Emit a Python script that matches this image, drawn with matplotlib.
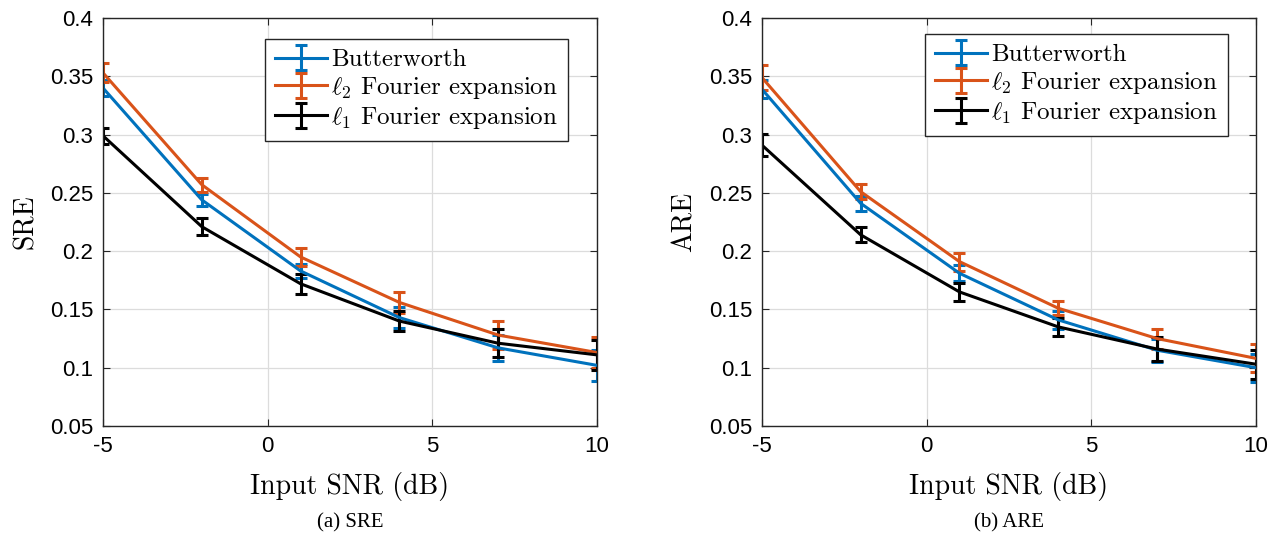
import numpy as np
import matplotlib.pyplot as plt
import matplotlib as mpl

mpl.rcParams['mathtext.fontset'] = 'cm'
mpl.rcParams['axes.unicode_minus'] = False

# data
snr = [-5, -2, 1, 4, 7, 10]
labels = ['Butterworth', r'$\ell_2$ Fourier expansion', r'$\ell_1$ Fourier expansion']
colors = ['#0072BD', '#D95319', 'black']

sre_bw = [0.340, 0.244, 0.183, 0.143, 0.117, 0.102]
sre_l2 = [0.353, 0.257, 0.195, 0.156, 0.128, 0.113]
sre_l1 = [0.299, 0.221, 0.172, 0.140, 0.121, 0.111]
sre_bw_err = [0.007, 0.005, 0.006, 0.009, 0.011, 0.013]
sre_l2_err = [0.008, 0.006, 0.008, 0.009, 0.012, 0.013]
sre_l1_err = [0.007, 0.007, 0.0085, 0.0085, 0.012, 0.013]

are_bw = [0.339, 0.241, 0.181, 0.141, 0.115, 0.100]
are_l2 = [0.349, 0.251, 0.191, 0.151, 0.125, 0.108]
are_l1 = [0.291, 0.214, 0.165, 0.135, 0.116, 0.103]
are_bw_err = [0.008, 0.0064, 0.007, 0.0076, 0.010, 0.012]
are_l2_err = [0.011, 0.0064, 0.0077, 0.006, 0.0086, 0.012]
are_l1_err = [0.0094, 0.0064, 0.0077, 0.008, 0.010, 0.0125]

yticks = [0.05, 0.1, 0.15, 0.2, 0.25, 0.3, 0.35, 0.4]
ytick_labels = ['0.05', '0.1', '0.15', '0.2', '0.25', '0.3', '0.35', '0.4']
xticks = [-5, 0, 5, 10]

fig = plt.figure(figsize=(12.74, 5.38), dpi=100)
panels = [
    ([sre_bw, sre_l2, sre_l1], [sre_bw_err, sre_l2_err, sre_l1_err], 'SRE', '(a) SRE', 0.0808, (0.941, 0.949)),
    ([are_bw, are_l2, are_l1], [are_bw_err, are_l2_err, are_l1_err], 'ARE', '(b) ARE', 0.598, (0.943, 0.961)),
]

for series, errs, ylab, cap, left, anchor in panels:
    ax = fig.add_axes([left, 0.2082, 0.3878, 0.7584])
    for y, e, lab, c in zip(series, errs, labels, colors):
        ax.errorbar(snr, y, yerr=e, color=c, lw=2.2, capsize=4.5, capthick=2.2,
                    elinewidth=2.2, label=lab)
    ax.set_xlim(-5, 10)
    ax.set_ylim(0.05, 0.4)
    ax.set_xticks(xticks)
    ax.set_xticklabels([str(v) for v in xticks], family='Liberation Sans', fontsize=16)
    ax.set_yticks(yticks)
    ax.set_yticklabels(ytick_labels, family='Liberation Sans', fontsize=16)
    ax.grid(True, color='#dcdcdc', lw=0.9)
    ax.set_axisbelow(True)
    ax.tick_params(direction='in', top=True, right=True, length=5, color='#262626', pad=7)
    for s in ax.spines.values():
        s.set_color('#262626')
        s.set_linewidth(1.0)
    ax.set_xlabel('Input SNR (dB)', family='cmr10', fontsize=20, labelpad=11)
    ax.set_ylabel(ylab, family='cmr10', fontsize=20, labelpad=8)
    leg = ax.legend(loc='upper right', bbox_to_anchor=anchor, fancybox=False,
                    prop={'family': 'cmr10', 'size': 18}, handlelength=2.1,
                    borderpad=0.4, labelspacing=0.15, borderaxespad=0,
                    handletextpad=0.15)
    leg.get_frame().set_edgecolor('#262626')
    leg.get_frame().set_linewidth(1.0)
    leg.get_frame().set_alpha(1)
    ax.text(0.5, -0.215, cap, transform=ax.transAxes, ha='center', va='top',
            family='Liberation Serif', fontsize=15)

fig.savefig('out.png', dpi=100)
